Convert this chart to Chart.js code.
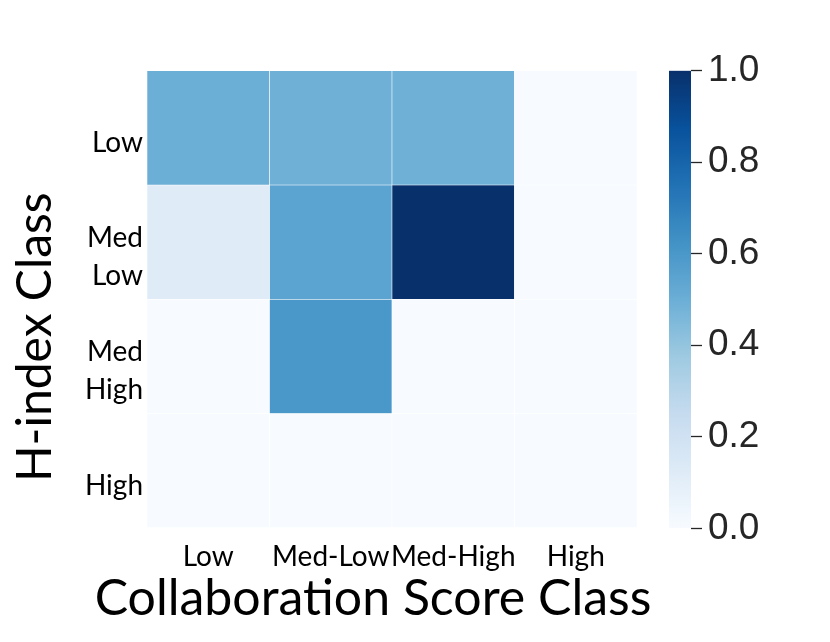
<!DOCTYPE html>
<html><head><meta charset="utf-8">
<script src="https://cdn.jsdelivr.net/npm/chart.js@4.4.0/dist/chart.umd.min.js"></script>
<style>
html,body{margin:0;padding:0;background:#fff;width:830px;height:642px;overflow:hidden}
.wrap{position:absolute;left:0;top:0;width:830px;height:642px}
</style></head><body>
<div class="wrap"><canvas id="heat"></canvas></div>
<div class="wrap"><canvas id="cbar"></canvas></div>
<script>
// ---- data ----
const colLabels = ['Low', 'Med-Low', 'Med-High', 'High'];
const rowLabels = ['Low', ['Med', 'Low'], ['Med', 'High'], 'High'];
const rowLow     = [0.50, 0.49, 0.49, 0.00];
const rowMedLow  = [0.12, 0.55, 1.00, 0.00];
const rowMedHigh = [0.00, 0.60, 0.00, 0.00];
const rowHigh    = [0.00, 0.00, 0.00, 0.00];
const colorbarTicks = [0.0, 0.2, 0.4, 0.6, 0.8, 1.0];
const xTitle = 'Collaboration Score Class';
const yTitle = 'H-index Class';

const rows = [rowLow, rowMedLow, rowMedHigh, rowHigh];

// matplotlib "Blues" colormap stops
const bluesStops = ['#f7fbff','#deebf7','#c6dbef','#9ecae1','#6baed6','#4292c6','#2171b5','#08519c','#08306b'];
function hexToRgb(h){return [parseInt(h.slice(1,3),16),parseInt(h.slice(3,5),16),parseInt(h.slice(5,7),16)];}
function blues(v){
  v = Math.max(0, Math.min(1, v));
  const p = v * (bluesStops.length - 1);
  const i = Math.min(Math.floor(p), bluesStops.length - 2);
  const t = p - i;
  const a = hexToRgb(bluesStops[i]), b = hexToRgb(bluesStops[i+1]);
  const c = a.map((x,k)=>Math.round(x + (b[k]-x)*t));
  return `rgb(${c[0]},${c[1]},${c[2]})`;
}

const MAIN_FONT = 'Lato';
const TXT = '#000000';

// axis titles drawn relative to the scales (avoids Chart.js title maxWidth squeeze)
const axisTitles = {
  id: 'axisTitles',
  afterDraw(chart) {
    const { ctx, scales } = chart;
    const xs = scales.x, ys = scales.yl;
    ctx.save();
    ctx.fillStyle = TXT;
    ctx.textAlign = 'center';
    ctx.textBaseline = 'alphabetic';
    ctx.font = `50px ${MAIN_FONT}`;
    ctx.fillText(xTitle, (xs.left + xs.right) / 2 - 19, xs.bottom - 27);
    ctx.font = `48px ${MAIN_FONT}`;
    ctx.translate(ys.left + 36, (ys.top + ys.bottom) / 2 + 38);
    ctx.rotate(-Math.PI / 2);
    ctx.textBaseline = 'middle';
    ctx.fillText(yTitle, 0, 0);
    ctx.restore();
  }
};

new Chart(document.getElementById('heat'), {
  type: 'bar',
  data: {
    labels: colLabels,
    datasets: rows.map((vals, r) => ({
      label: 'row' + r,
      data: vals.map(() => [r, r + 1]),
      backgroundColor: vals.map(blues),
      borderColor: '#ffffff',
      borderWidth: 0.6,
      borderSkipped: false,
      grouped: false,
      categoryPercentage: 1,
      barPercentage: 1,
      yAxisID: 'y'
    }))
  },
  options: {
    responsive: true,
    maintainAspectRatio: false,
    animation: false,
    events: [],
    layout: { padding: { left: 0, top: 70.7, right: 193, bottom: 0 } },
    plugins: { legend: { display: false }, tooltip: { enabled: false } },
    scales: {
      x: {
        type: 'category',
        grid: { display: false, drawTicks: false },
        border: { display: false },
        ticks: { color: TXT, font: { family: MAIN_FONT, size: 28 }, padding: 12, maxRotation: 0, autoSkip: false },
        afterFit: s => { s.height = 642 - 527.7; }
      },
      y: { type: 'linear', display: false, min: 0, max: 4, reverse: true },
      yl: {
        type: 'category',
        labels: rowLabels,
        position: 'left',
        offset: true,
        grid: { display: false, drawTicks: false },
        border: { display: false },
        ticks: { color: TXT, font: { family: MAIN_FONT, size: 28, lineHeight: 1.35 }, padding: 4, labelOffset: 15, autoSkip: false },
        afterFit: s => { s.width = 147; }
      }
    }
  },
  plugins: [axisTitles]
});

new Chart(document.getElementById('cbar'), {
  type: 'bar',
  data: {
    labels: [''],
    datasets: [{
      data: [1],
      backgroundColor: (ctx) => {
        const ca = ctx.chart.chartArea;
        if (!ca) return bluesStops[4];
        const g = ctx.chart.ctx.createLinearGradient(0, ca.bottom, 0, ca.top);
        bluesStops.forEach((c, i) => g.addColorStop(i / (bluesStops.length - 1), c));
        return g;
      },
      borderWidth: 0,
      categoryPercentage: 1,
      barPercentage: 1
    }]
  },
  options: {
    responsive: true,
    maintainAspectRatio: false,
    animation: false,
    events: [],
    layout: { padding: { left: 669, top: 70.7, right: 0, bottom: 642 - 528.3 } },
    plugins: { legend: { display: false }, tooltip: { enabled: false } },
    scales: {
      x: { display: false },
      y: {
        position: 'right',
        min: 0, max: 1,
        afterBuildTicks: s => { s.ticks = colorbarTicks.map(v => ({ value: v })); },
        ticks: { callback: v => Number(v).toFixed(1), color: '#262626', font: { family: 'Liberation Sans', size: 37 }, padding: 6 },
        grid: { drawOnChartArea: false, drawTicks: true, tickLength: 11, tickColor: '#262626', tickWidth: 1.3 },
        border: { display: false },
        afterFit: s => { s.width = 830 - 691; }
      }
    }
  }
});
</script>
</body></html>
